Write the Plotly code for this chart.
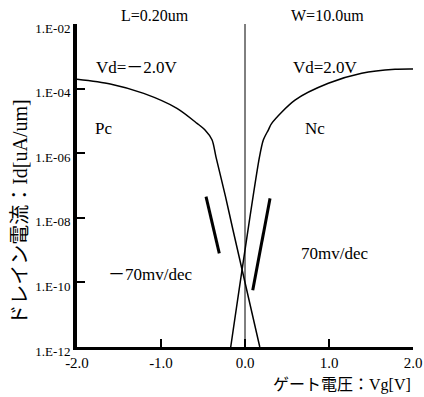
import plotly.graph_objects as go

# ---- data ----
pc_vg = [-2.0, -1.604, -1.206, -0.810, -0.571, -0.476, -0.393, -0.345, -0.232, -0.143, -0.038, 0.176]
pc_id = [1.94e-4, 1.39e-4, 7.1e-5, 2.45e-5, 8.4e-6, 5.2e-6, 2.6e-6, 7.6e-7, 4.5e-8, 4.2e-9, 2.7e-10, 1.0e-12]

nc_vg = [-0.170, 0.173, 0.218, 0.277, 0.318, 0.595, 0.992, 1.389, 1.786, 2.0]
nc_id = [1.0e-12, 7.8e-7, 2.56e-6, 5.2e-6, 8.4e-6, 4.4e-5, 1.46e-4, 2.98e-4, 3.96e-4, 4.05e-4]

pslope_vg = [-0.464, -0.306]
pslope_id = [4.5e-8, 7.9e-10]
nslope_vg = [0.298, 0.092]
nslope_id = [4.0e-8, 5.75e-11]

x_tickvals = [-2.0, -1.0, 0.0, 1.0, 2.0]
x_ticktext = ["-2.0", "-1.0", "0.0", "1.0", "2.0"]
y_tickvals = [1e-12, 1e-10, 1e-8, 1e-6, 1e-4, 1e-2]
y_ticktext = ["1.E-12", "1.E-10", "1.E-08", "1.E-06", "1.E-04", "1.E-02"]
zero_vg = 0.0

FONT = "Liberation Serif, Noto Sans CJK JP, serif"

fig = go.Figure()
fig.add_trace(go.Scatter(x=pc_vg, y=pc_id, mode="lines",
                         line=dict(color="black", width=1.5, shape="spline", smoothing=0.8)))
fig.add_trace(go.Scatter(x=nc_vg, y=nc_id, mode="lines",
                         line=dict(color="black", width=1.5, shape="spline", smoothing=0.8)))
fig.add_trace(go.Scatter(x=pslope_vg, y=pslope_id, mode="lines",
                         line=dict(color="black", width=3)))
fig.add_trace(go.Scatter(x=nslope_vg, y=nslope_id, mode="lines",
                         line=dict(color="black", width=3)))

fig.add_shape(type="line", x0=zero_vg, x1=zero_vg, xref="x", yref="paper", y0=0, y1=1,
              line=dict(color="black", width=1))

def ann(text, x, y, size=17, xanchor="center", angle=0):
    fig.add_annotation(text=text, x=x, y=y, xref="paper", yref="paper",
                       showarrow=False, xanchor=xanchor, yanchor="middle",
                       textangle=angle, font=dict(family=FONT, size=size, color="black"))

ann("L=0.20um", 0.232, 1.025, size=16)
ann("W=10.0um", 0.747, 1.025, size=16)
ann("Vd=－2.0V", 0.179, 0.864)
ann("Vd=2.0V", 0.741, 0.864)
ann("Pc", 0.080, 0.678)
ann("Nc", 0.708, 0.678)
ann("－70mv/dec", 0.217, 0.226)
ann("70mv/dec", 0.765, 0.288)
ann("ゲート電圧：Vg[V]", 1.0, -0.118, size=16, xanchor="right")
ann("ドレイン電流：Id[uA/um]", -0.170, 0.418, size=20, angle=-90)

fig.update_layout(
    width=424, height=397,
    margin=dict(l=77, r=11, t=24, b=50),
    paper_bgcolor="white", plot_bgcolor="white",
    showlegend=False,
    font=dict(family=FONT, color="black"),
    xaxis=dict(range=[-2, 2], tickvals=x_tickvals, ticktext=x_ticktext,
               ticks="inside", ticklen=8, tickwidth=2, tickcolor="black",
               showline=True, linewidth=3, linecolor="black",
               showgrid=False, zeroline=False, automargin=False,
               tickfont=dict(family=FONT, size=15, color="black")),
    yaxis=dict(type="log", range=[-12, -2], tickvals=y_tickvals, ticktext=y_ticktext,
               ticks="inside", ticklen=8, tickwidth=2, tickcolor="black",
               showline=True, linewidth=4, linecolor="black",
               showgrid=False, zeroline=False, automargin=False,
               ticklabelshift=4,
               tickfont=dict(family=FONT, size=13, color="black")),
)

# remove the default page margin so the 424x397 figure fills the window exactly
fig.write_html("out.html",
               config={"displayModeBar": False},
               post_script="document.body.style.margin='0';document.body.style.overflow='hidden';")
